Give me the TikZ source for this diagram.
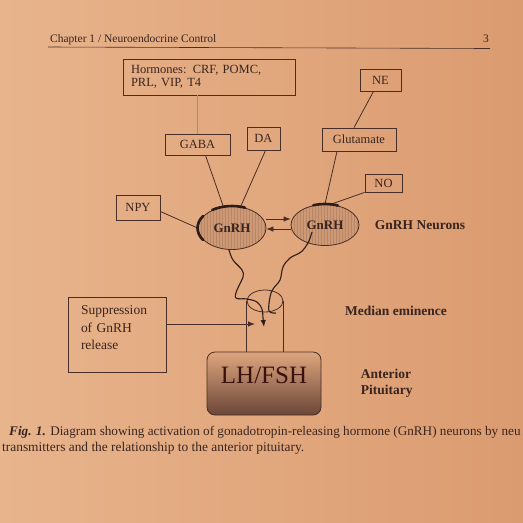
\documentclass[tikz,border=0pt]{standalone}
\usepackage{fontspec}
\setmainfont{Liberation Serif}
\usetikzlibrary{shapes.geometric, arrows.meta, positioning, patterns}

\definecolor{pagelight}{RGB}{232,180,140}
\definecolor{pagedark}{RGB}{219,155,112}
\definecolor{inkcol}{RGB}{72,46,38}
\definecolor{textcol}{RGB}{58,36,30}
\definecolor{faintcol}{RGB}{178,138,112}
\definecolor{ellfill}{RGB}{206,154,118}
\definecolor{ellhatch}{RGB}{184,134,102}
\definecolor{syncol}{RGB}{45,28,24}
\definecolor{pitlight}{RGB}{222,166,126}
\definecolor{pitmid}{RGB}{196,140,104}
\definecolor{pitdark}{RGB}{108,70,56}

\begin{document}
\begin{tikzpicture}[
    x=1pt, y=-1pt, >={Latex[length=7pt, width=5.5pt]},
    ink/.style={draw=inkcol, line width=0.8pt},
    faint/.style={draw=faintcol, line width=0.7pt},
    box/.style={ink, rectangle, inner sep=0pt, text=textcol, font=\fontsize{12.5}{13.5}\selectfont},
    neuron/.style={ink, ellipse, minimum width=68, minimum height=43, inner sep=0pt, preaction={fill=ellfill}, pattern=vertical lines, pattern color=ellhatch, text=textcol, font=\fontsize{13}{15}\selectfont\bfseries},
    synapse/.style={draw=syncol, line width=2.6pt, line cap=round},
    arrow/.style={->, ink},
    axon/.style={draw=syncol, line width=1.1pt},
    side/.style={text=textcol, font=\fontsize{13.5}{16}\selectfont\bfseries},
    pit/.style={ink, rounded corners=8pt, minimum width=114, minimum height=63, top color=pitlight, middle color=pitmid, bottom color=pitdark, text=textcol!80!red!60!black, font=\fontsize{25}{28}\selectfont, text depth=17pt},
    header/.style={text=textcol, font=\fontsize{11.5}{13}\selectfont, inner sep=0pt},
    caption/.style={text=textcol, font=\fontsize{13.4}{16}\selectfont, inner sep=0pt}
]
    \useasboundingbox (0,0) rectangle (523,523);
    \clip (0,0) rectangle (523,523);
    \fill[left color=pagelight, right color=pagedark] (0,0) rectangle (523,523);

    % Page header
    \node[header, anchor=base west] (hdr) at (50,42) {Chapter 1 / Neuroendocrine Control};
    \node[header, anchor=base east] (pg) at (489,42) {3};
    \draw[ink, line width=0.6pt] (48,47) -- (490,48.5);

    % Inputs
    \node[box, minimum width=172, minimum height=36, text width=156, align=left] (horm) at (209,77) {Hormones: CRF, POMC,\\PRL, VIP, T4};
    \node[box, minimum width=41, minimum height=22] (ne) at (380.5,80) {NE};
    \node[box, minimum width=65, minimum height=21] (gaba) at (197.5,144.5) {GABA};
    \node[box, minimum width=33, minimum height=23] (da) at (263.5,138.5) {DA};
    \node[box, minimum width=74, minimum height=23] (glut) at (359,139.5) {Glutamate};
    \node[box, minimum width=37, minimum height=18] (no) at (383.5,183) {NO};
    \node[box, minimum width=44, minimum height=25] (npy) at (138,207.5) {NPY};

    % GnRH neurons
    \node[neuron] (gl) at (232,228) {GnRH};
    \node[neuron, minimum height=41] (gr) at (325,225) {GnRH};
    \node[side, right=12pt of gr] (gnlab) {GnRH Neurons};

    % Inputs onto the neurons
    \draw[faint] (horm.south -| gaba.north) -- (gaba.north);
    \draw[ink] ([xshift=-7]ne.south) -- ([xshift=-5]glut.north);
    \draw[ink] ([xshift=8]gaba.south) -- (gl.112);
    \draw[ink] ([xshift=2]da.south) -- (gl.68);
    \draw[ink] ([xshift=-22]glut.south) -- (gr.north);
    \draw[ink] (no.south west) -- (gr.75);
    \draw[ink] ([yshift=-4]npy.east) -- (gl.west);

    % Synaptic contacts
    \draw[synapse] (gl.center) ++(235:34.5 and 22) arc[start angle=235, end angle=292, x radius=34.5, y radius=22];
    \draw[synapse] (gl.center) ++(147:34.5 and 22) arc[start angle=147, end angle=213, x radius=34.5, y radius=22];
    \draw[synapse] (gr.center) ++(250:34.5 and 21) arc[start angle=250, end angle=292, x radius=34.5, y radius=21];

    % Between the two neurons
    \draw[arrow] ([yshift=9]gl.east) -- ([yshift=9]gl.east -| gr.west);
    \draw[arrow] ([yshift=-4]gr.west) -- ([yshift=-4]gr.west -| gl.east);

    % Median eminence and pituitary
    \node[ink, ellipse, minimum width=36, minimum height=22, inner sep=0pt] (me) at (265,301) {};
    \node[side] (melab) at (396,311) {Median eminence};
    \node[pit] (pit) at (264,383.5) {LH/FSH};
    \draw[ink] (me.west) -- (me.west |- pit.north);
    \draw[ink] (me.east) -- (me.east |- pit.north);
    \node[side, align=left, right=36pt of pit] (pitlab) {Anterior\\Pituitary};

    % Axons
    \coordinate (ltip) at (264,327);
    \coordinate (rstart) at (312,232);
    \coordinate (rend) at (276,313);
    \draw[axon, ->] plot[smooth, tension=0.6] coordinates {(gl.262) (233,260) (242,270) (243,277) (237,290) (236,298) (247,299) (257,302) (262,309) (263,318) (ltip)};
    \draw[axon] plot[smooth, tension=0.6] coordinates {(rstart) (308,243) (301,252) (290,258) (283,267) (280,280) (273,289) (270,297) (269,311) (rend)};

    % Suppression
    \node[box, minimum width=98, minimum height=75, text width=72, align=left, font=\fontsize{13.5}{17.5}\selectfont, text depth=48pt] (supp) at (117,334.5) {Suppression\\of GnRH\\release};
    \coordinate (stip) at (255,324);
    \draw[arrow] (supp.east |- stip) -- (stip);

    % Caption
    \node[caption, anchor=base west, font=\fontsize{13.2}{16}\selectfont] (cap1) at (9,435) {\textbf{\textit{Fig. 1.}} Diagram showing activation of gonadotropin-releasing hormone (GnRH) neurons by neu};
    \node[caption, anchor=base west] (cap2) at (2,451.5) {transmitters and the relationship to the anterior pituitary.};
\end{tikzpicture}
\end{document}
